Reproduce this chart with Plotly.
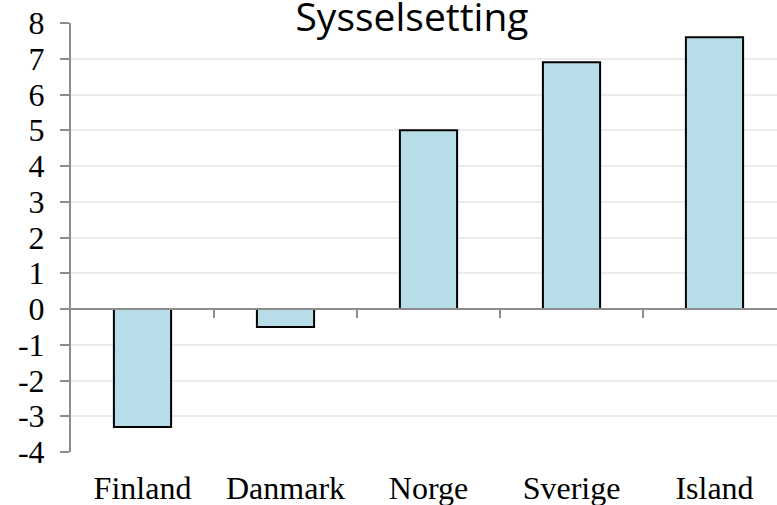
import plotly.graph_objects as go

countries = ["Finland", "Danmark", "Norge", "Sverige", "Island"]
values = [-3.3, -0.5, 5.0, 6.9, 7.6]
y_ticks = [-4, -3, -2, -1, 0, 1, 2, 3, 4, 5, 6, 7, 8]
y_labels = [str(v) for v in y_ticks]  # plain hyphen minus, as in the original

W, H = 777, 505
left, top, bottom = 71, 23, 53
step = 143  # px per category; the original plot runs past the right edge
x_max = -0.5 + (W - left) / step

serif = "Liberation Serif, Times New Roman, serif"

fig = go.Figure()
fig.add_trace(go.Bar(
    x=list(range(len(countries))),
    y=values,
    width=0.4,
    marker=dict(color="#B7DEE8", line=dict(color="black", width=2)),
))
# empty trace so the axis through zero gets drawn
fig.add_trace(go.Scatter(x=[None], y=[None], xaxis="x2", yaxis="y", showlegend=False))

fig.update_layout(
    width=W,
    height=H,
    margin=dict(l=left, r=0, t=top, b=bottom),
    plot_bgcolor="white",
    paper_bgcolor="white",
    showlegend=False,
    title=dict(
        text="Sysselsetting",
        font=dict(family="Open Sans", size=39, color="black"),
        x=412 / W, xref="container", xanchor="center",
        y=1 - 31 / H, yref="container", yanchor="bottom",
    ),
    xaxis=dict(
        range=[-0.5, x_max],
        tickmode="array",
        tickvals=list(range(len(countries))),
        ticktext=countries,
        ticks="",
        showgrid=False,
        zeroline=False,
        showline=False,
        tickfont=dict(family=serif, size=32, color="black"),
        ticklabelstandoff=14,
        ticklabeloverflow="allow",
    ),
    xaxis2=dict(
        range=[-0.5, x_max],
        overlaying="x",
        anchor="free",
        position=(0 - y_ticks[0]) / (y_ticks[-1] - y_ticks[0]),
        tickmode="array",
        tickvals=[i + 0.5 for i in range(len(countries) - 1)],
        showticklabels=False,
        ticks="outside",
        ticklen=8,
        tickwidth=2,
        tickcolor="#8c8c8c",
        showline=True,
        linecolor="#8c8c8c",
        linewidth=2,
        showgrid=False,
        zeroline=False,
    ),
    yaxis=dict(
        range=[y_ticks[0], y_ticks[-1]],
        tickmode="array",
        tickvals=y_ticks,
        ticktext=y_labels,
        ticks="outside",
        ticklen=9,
        tickwidth=2,
        tickcolor="#8c8c8c",
        showline=True,
        linecolor="#8c8c8c",
        linewidth=2,
        showgrid=True,
        gridcolor="#ececec",
        gridwidth=2,
        zeroline=False,
        tickfont=dict(family=serif, size=32, color="black"),
        ticklabelstandoff=9,
        ticklabeloverflow="allow",
    ),
)

# drop the default page margin so the figure sits at the window's corner
fig.write_html(
    "out.html",
    config={"displayModeBar": False},
    post_script="document.body.style.margin = '0';",
)
